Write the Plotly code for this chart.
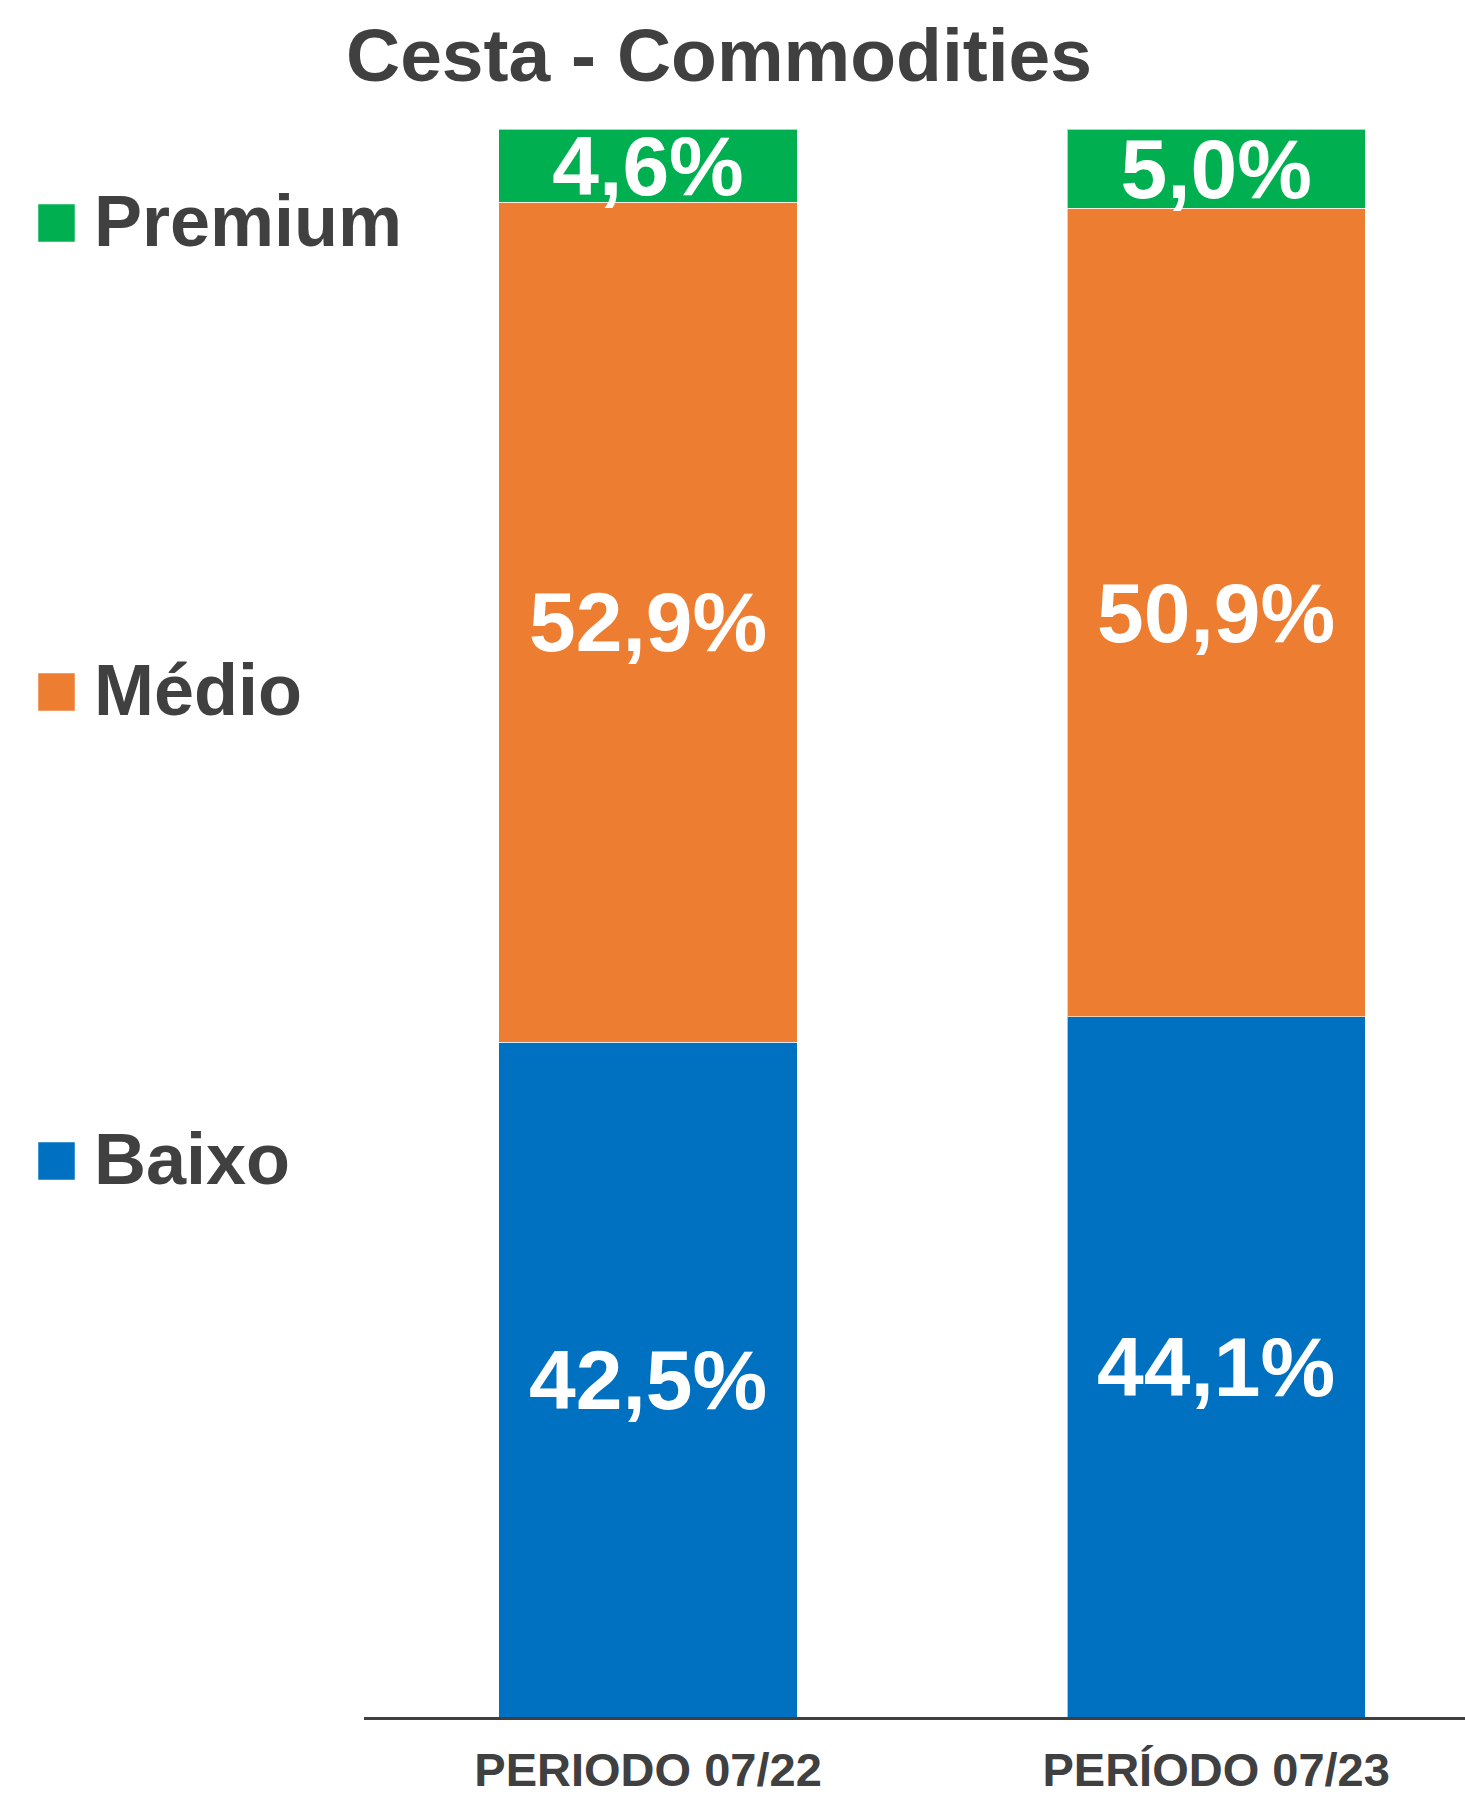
import plotly.graph_objects as go

# ---- data ----
categories = ["PERIODO 07/22", "PERÍODO 07/23"]
baixo = [42.5, 44.1]
medio = [52.9, 50.9]
premium = [4.6, 5.0]
series_names = ["Baixo", "Médio", "Premium"]
series_colors = ["#0070C0", "#ED7D31", "#00B050"]
title_text = "Cesta - Commodities"

W, H = 1465, 1796
L, R, T, B = 364, 0, 129, 79
TEXT = "#404040"
FONT = "Liberation Sans, Arial, sans-serif"

plot_w = W - L - R
plot_h = H - T - B


def px_x(x):
    return (x - L) / plot_w


def px_y(y):
    return 1 - (y - T) / plot_h


fig = go.Figure()
for name, vals, col in zip(series_names, [baixo, medio, premium], series_colors):
    fig.add_trace(go.Bar(
        x=categories, y=vals, name=name,
        marker=dict(color=col, line=dict(color="rgba(255,255,255,0.6)", width=1)),
        width=0.525,
        texttemplate="%{y:.1f}%",
        textposition="inside",
        insidetextanchor="middle",
        textangle=0,
        textfont=dict(family=FONT, size=84, color="white", weight="bold"),
        showlegend=False,
        hoverinfo="skip",
    ))

# manual legend (large squares + labels)
legend_rows = [("Premium", series_colors[2], 223),
               ("Médio", series_colors[1], 692),
               ("Baixo", series_colors[0], 1161)]
shapes = []
annotations = []
for name, col, cy in legend_rows:
    shapes.append(dict(type="rect", xref="paper", yref="paper",
                       x0=px_x(38), x1=px_x(75), y0=px_y(cy + 19), y1=px_y(cy - 19),
                       fillcolor=col, line=dict(color="rgba(255,255,255,0.5)", width=1)))
    annotations.append(dict(xref="paper", yref="paper", x=px_x(92), y=px_y(cy - 2),
                            xanchor="left", yanchor="middle", showarrow=False,
                            text=name, font=dict(family=FONT, size=72, color=TEXT, weight="bold")))

fig.update_layout(
    width=W, height=H,
    margin=dict(l=L, r=R, t=T, b=B),
    paper_bgcolor="white", plot_bgcolor="white",
    barmode="stack",
    separators=",.",
    uniformtext=dict(minsize=84, mode="show"),
    title=dict(text=title_text, x=719 / W, y=1 - 55 / H, xanchor="center", yanchor="middle",
               font=dict(family=FONT, size=75, color=TEXT, weight="bold")),
    xaxis=dict(range=[-0.5, 1.438], showgrid=False, zeroline=False,
               showline=True, linecolor=TEXT, linewidth=3,
               ticks="", ticklabelstandoff=10, automargin=False,
               tickfont=dict(family=FONT, size=47, color=TEXT, weight="bold")),
    yaxis=dict(range=[0, 100], visible=False, fixedrange=True),
    shapes=shapes,
    annotations=annotations,
)

fig.write_html(
    "out.html",
    config={"displayModeBar": False, "staticPlot": True},
    post_script="document.body.style.margin='0';document.body.style.overflow='hidden';",
)
